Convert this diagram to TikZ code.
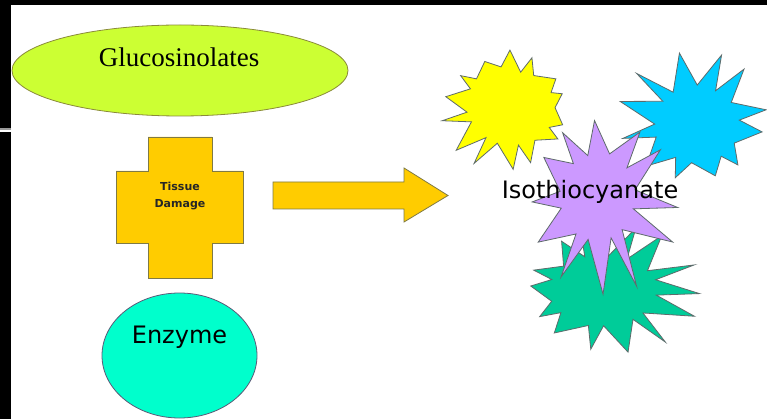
\documentclass[tikz,border=0pt]{standalone}
\usepackage{fontspec}
\setmainfont{Liberation Serif}
\newfontfamily\labelsans{DejaVu Sans}
\usetikzlibrary{shapes.geometric}

\definecolor{limefill}{HTML}{CCFF33}
\definecolor{limeline}{HTML}{8A8A3A}
\definecolor{amberfill}{HTML}{FFCC00}
\definecolor{amberline}{HTML}{7F7A45}
\definecolor{aquafill}{HTML}{00FFCC}
\definecolor{aqualine}{HTML}{5A5A78}
\definecolor{sunfill}{HTML}{FFFF00}
\definecolor{skyfill}{HTML}{00CCFF}
\definecolor{lilacfill}{HTML}{CC99FF}
\definecolor{jadefill}{HTML}{00CC99}
\definecolor{burstedge}{HTML}{5E6B6B}

% star burst of (#1+1)/2 points on the unit circle, inner radius ratio #2,
% first tip at angle #3, tip jitter seeded by #4
\newcommand\burst[4]{plot[samples at={0,...,#1}]
  ({ifthenelse(mod(\x,2)==0,1,#2)*(1+0.1*sin(\x*163+#4))*cos(\x*360/(#1+1)+#3+5*sin(\x*97+#4))},
   {ifthenelse(mod(\x,2)==0,1,#2)*(1+0.1*sin(\x*163+#4))*sin(\x*360/(#1+1)+#3+5*sin(\x*97+#4))}) -- cycle}

\tikzset{
  shapeline/.style={line width=0.8pt},
  burstshape/.style={shapeline, draw=burstedge, line join=miter},
  sanslabel/.style={font=\labelsans\fontsize{24}{28}\selectfont, text=black, inner sep=0pt},
}

\begin{document}
\begin{tikzpicture}[x=1pt,y=-1pt]
\path[use as bounding box] (0,0) rectangle (767,419);
\fill[white] (0,0) rectangle (767,419);

% black frame pieces along the top and left edge
\fill[black] (0,0) rectangle (767,5);
\fill[black] (0,5) rectangle (11,128.5);
\fill[black!40] (0,128.5) rectangle (11,129.8);
\fill[black] (0,132) rectangle (11,419);

% Glucosinolates
\node[ellipse, shapeline, draw=limeline, fill=limefill, minimum width=336pt,
      minimum height=91pt, inner sep=0pt] (gluc) at (180,70.5) {};
\node[font=\fontsize{27}{30}\selectfont, inner sep=0pt] (glucText) at (179,57) {Glucosinolates};

% Tissue damage cross
\filldraw[shapeline, draw=amberline, fill=amberfill]
  (148,137) -- (212,137) -- (212,171) -- (243,171) -- (243,243) -- (212,243)
  -- (212,278) -- (148,278) -- (148,243) -- (116,243) -- (116,171) -- (148,171) -- cycle;
\node[font=\labelsans\bfseries\fontsize{11}{17}\selectfont, align=center, inner sep=0pt,
      text=black!85] (tissue) at (180,196) {Tissue\\Damage};

% Enzyme
\node[ellipse, shapeline, draw=aqualine, fill=aquafill, minimum width=155pt,
      minimum height=125pt, inner sep=0pt] (enzyme) at (179.5,355.5) {};
\node[sanslabel] (enzymeText) at (179.5,337) {Enzyme};

% block arrow
\filldraw[shapeline, draw=amberline, fill=amberfill]
  (273,182) -- (404,182) -- (404,168) -- (448,195.5) -- (404,222) -- (404,209)
  -- (273,209) -- cycle;

% product bursts
\filldraw[burstshape, fill=sunfill, shift={(508,109)}, xscale=63, yscale=57] \burst{27}{0.68}{-90}{20};
\filldraw[burstshape, fill=skyfill, shift={(695,121)}, xscale=72, yscale=64] \burst{23}{0.6}{-75}{70};
\filldraw[burstshape, fill=jadefill, shift={(608,290)}, xscale=86, yscale=60] \burst{27}{0.62}{0}{140};
\filldraw[burstshape, fill=lilacfill, shift={(600,200)}, xscale=74, yscale=88] \burst{23}{0.5}{-90}{250};

\node[sanslabel] (product) at (590,192) {Isothiocyanate};
\end{tikzpicture}
\end{document}
